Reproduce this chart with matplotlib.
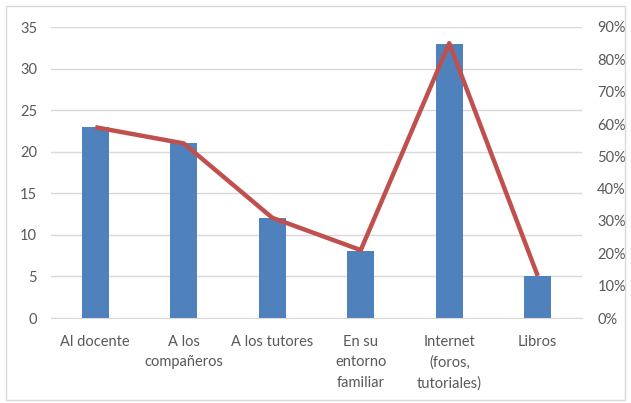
import matplotlib
matplotlib.use("Agg")
import matplotlib.pyplot as plt
from matplotlib.patches import Rectangle
from matplotlib.ticker import FuncFormatter

categories = ["Al docente", "A los\ncompañeros", "A los tutores", "En su\nentorno\nfamiliar",
              "Internet\n(foros,\ntutoriales)", "Libros"]
counts = [23, 21, 12, 8, 33, 5]
percents = [59, 54, 31, 21, 85, 13]
left_ticks = [0, 5, 10, 15, 20, 25, 30, 35]
right_ticks = [0, 10, 20, 30, 40, 50, 60, 70, 80, 90]

plt.rcParams['font.family'] = ['Lato', 'DejaVu Sans']
W, H = 631, 403
fig = plt.figure(figsize=(W / 100, H / 100), dpi=100)
fig.patches.append(Rectangle((6 / W, 3 / H), 619 / W, 394 / H, transform=fig.transFigure,
                             fill=False, edgecolor='#D9D9D9', linewidth=1))

ax = fig.add_axes([51 / W, 1 - 318 / H, (582 - 51) / W, (318 - 27) / H])
x = list(range(len(categories)))
ax.bar(x, counts, width=0.3, color='#4F81BD', zorder=2)
ax.set_xlim(-0.5, len(categories) - 0.5)
ax.set_ylim(0, 35)
ax.set_yticks(left_ticks)
ax.grid(axis='y', color='#D9D9D9', linewidth=1, zorder=0)
ax.set_axisbelow(True)
for s in ['top', 'right', 'left']:
    ax.spines[s].set_visible(False)
ax.spines['bottom'].set_color('#D9D9D9')
ax.tick_params(axis='both', length=0, colors='#595959', labelsize=10.5)
ax.tick_params(axis='y', pad=10)
ax.tick_params(axis='x', pad=12)
ax.set_xticks(x)
ax.set_xticklabels(categories, linespacing=1.6)

ax2 = ax.twinx()
ax2.plot(x, percents, color='#C0504D', linewidth=3.2, zorder=3, solid_capstyle='butt')
ax2.set_ylim(0, 90)
ax2.set_yticks(right_ticks)
ax2.yaxis.set_major_formatter(FuncFormatter(lambda v, p: f"{int(v)}%"))
for s in ['top', 'right', 'left', 'bottom']:
    ax2.spines[s].set_visible(False)
ax2.tick_params(axis='y', length=0, colors='#595959', labelsize=10.5, pad=11)

fig.savefig("out.png", dpi=100)
